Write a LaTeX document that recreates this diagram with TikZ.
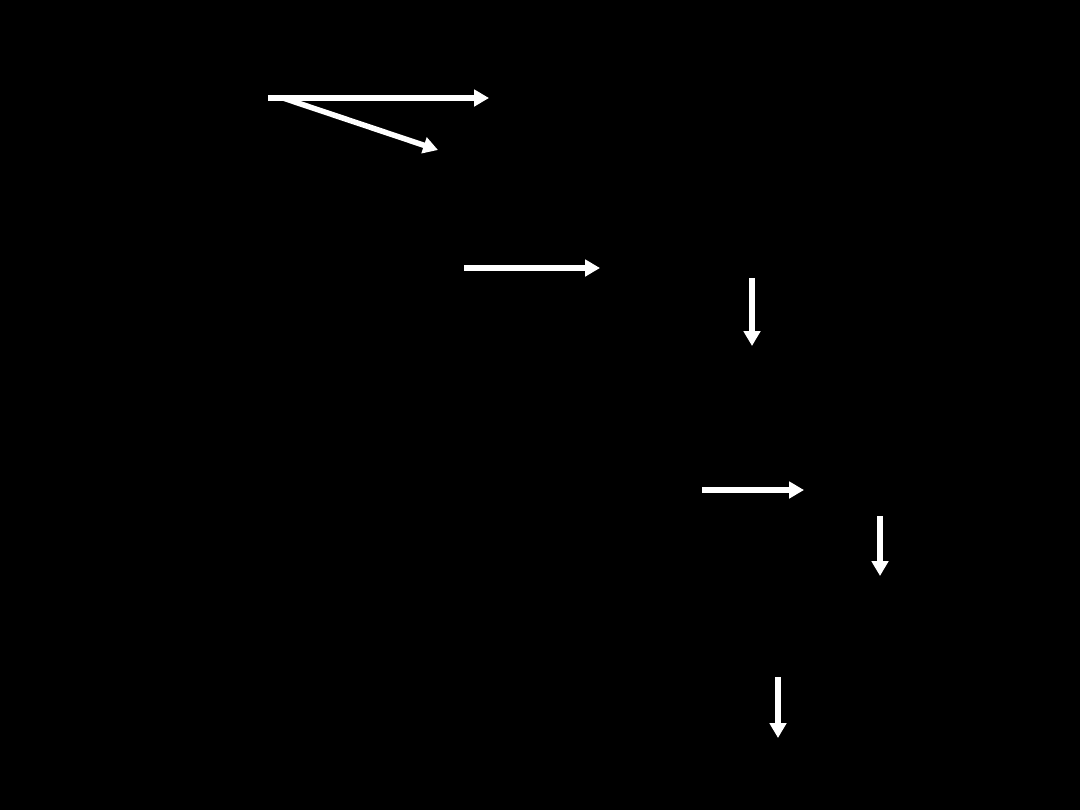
\documentclass[tikz,border=0pt]{standalone}
\usepackage{tikz}
\usetikzlibrary{positioning,arrows.meta,calc}

\begin{document}
\begin{tikzpicture}[x=0.025cm,y=-0.025cm,
  wire/.style={white,line width=3.9pt,-{Triangle[length=10.5pt,width=11.5pt]}}]

  \fill[black] (0,0) rectangle (1080,810);

  \coordinate (a0) at (268,98);
  \coordinate (a1) at (489,98);
  \coordinate (b0) at (283,98);
  \coordinate (b1) at (438,150);
  \coordinate (c0) at (464,268);
  \coordinate (c1) at (600,268);
  \coordinate (d0) at (752,278);
  \coordinate (d1) at (752,346);
  \coordinate (e0) at (702,490);
  \coordinate (e1) at (804,490);
  \coordinate (f0) at (880,516);
  \coordinate (f1) at (880,576);
  \coordinate (g0) at (778,677);
  \coordinate (g1) at (778,738);

  \draw[wire] (a0) -- (a1);
  \draw[wire] (b0) -- (b1);
  \draw[wire] (c0) -- (c1);
  \draw[wire] (d0) -- (d1);
  \draw[wire] (e0) -- (e1);
  \draw[wire] (f0) -- (f1);
  \draw[wire] (g0) -- (g1);

\end{tikzpicture}
\end{document}
